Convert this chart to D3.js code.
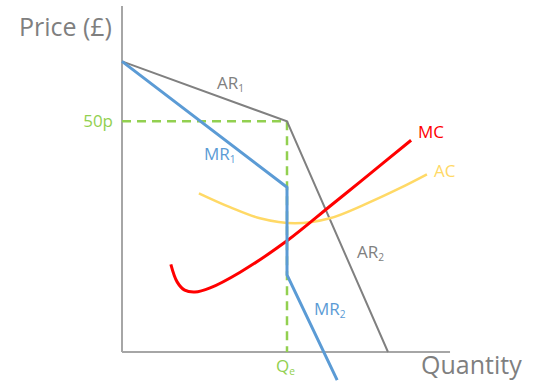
<!DOCTYPE html>
<html>
<head>
<meta charset="utf-8">
<script src="https://cdn.jsdelivr.net/npm/d3@7"></script>
<style>
  body { margin: 0; background: #fff; }
  text { font-family: "Open Sans", sans-serif; }
</style>
</head>
<body>
<div id="chart"></div>
<script>
// Kinked demand curve diagram (quantity units 0-10, price in pence 0-75)

const qe = 5;
const priceE = 50;

// Average revenue: flat-ish above the kink, steep below it
const arPoints = [[0, 63], [5, 50], [8.06, 0]];
// Marginal revenue: two segments with a vertical gap at Qe
const mrPoints = [[0, 63], [5, 35.7], [5, 16.7], [6.52, -6.1]];
// Marginal cost
const mcPoints = [[1.48, 19.0], [1.67, 15.2], [1.9, 13.4], [2.21, 13.0], [2.67, 13.9],
                  [3.58, 17.3], [5, 24.1], [6.3, 31.6], [7.27, 37.2], [8.76, 45.9]];
// Average cost
const acPoints = [[2.33, 34.4], [3.27, 31.4], [4.18, 29.0], [5.24, 27.9], [6.3, 29.0],
                  [7.36, 32.0], [8.42, 35.5], [9.24, 38.5]];

const width = 540, height = 390;

const svg = d3.select("#chart").append("svg")
  .attr("width", width)
  .attr("height", height);

const x = d3.scaleLinear().domain([0, 10]).range([122, 452]);
const y = d3.scaleLinear().domain([0, 75]).range([352, 6]);

const line = d3.line().x(d => x(d[0])).y(d => y(d[1]));
const smooth = d3.line().x(d => x(d[0])).y(d => y(d[1])).curve(d3.curveCatmullRom.alpha(0.5));

// Axes
svg.append("line")
  .attr("x1", x(0)).attr("x2", x(0))
  .attr("y1", y(75)).attr("y2", y(0))
  .attr("stroke", "#a6a6a6").attr("stroke-width", 2);
svg.append("line")
  .attr("x1", x(0)).attr("x2", x(9.94))
  .attr("y1", y(0)).attr("y2", y(0))
  .attr("stroke", "#a6a6a6").attr("stroke-width", 2);

// Dashed guides to the kink
svg.append("path")
  .attr("d", line([[0, priceE], [qe, priceE], [qe, 0]]))
  .attr("fill", "none")
  .attr("stroke", "#92d050")
  .attr("stroke-width", 2.5)
  .attr("stroke-dasharray", "9,6");

// Curves
svg.append("path")
  .attr("d", line(arPoints))
  .attr("fill", "none").attr("stroke", "#808080").attr("stroke-width", 2);

svg.append("path")
  .attr("d", smooth(acPoints))
  .attr("fill", "none").attr("stroke", "#ffd966").attr("stroke-width", 2.5);

svg.append("path")
  .attr("d", smooth(mcPoints))
  .attr("fill", "none").attr("stroke", "#ff0000").attr("stroke-width", 3);

svg.append("path")
  .attr("d", line(mrPoints))
  .attr("fill", "none").attr("stroke", "#5b9bd5").attr("stroke-width", 3)
  .attr("stroke-linejoin", "round");

// Axis titles
svg.append("text")
  .attr("x", 112).attr("y", 36)
  .attr("text-anchor", "end")
  .attr("fill", "#7f7f7f")
  .style("font-size", "25px")
  .text("Price (£)");

svg.append("text")
  .attr("x", 421).attr("y", 374)
  .attr("fill", "#7f7f7f")
  .style("font-size", "25px")
  .text("Quantity");

// Labels
function label(text, sub, px, py, color, size) {
  const t = svg.append("text")
    .attr("x", px).attr("y", py)
    .attr("fill", color)
    .style("font-size", size + "px");
  t.append("tspan").text(text);
  if (sub) {
    t.append("tspan")
      .attr("dy", 3)
      .style("font-size", (size * 0.6) + "px")
      .text(sub);
  }
  return t;
}

svg.append("text")
  .attr("x", 113).attr("y", y(priceE) + 6)
  .attr("text-anchor", "end")
  .attr("fill", "#92d050")
  .style("font-size", "17px")
  .text("50p");

label("Q", "e", 276, 372, "#92d050", 17);
label("AR", "1", 217, 89, "#808080", 17);
label("AR", "2", 357, 258, "#808080", 17);
label("MR", "1", 204, 160, "#5b9bd5", 17);
label("MR", "2", 314, 315, "#5b9bd5", 17);
label("MC", null, 418, 138, "#ff0000", 17);
label("AC", null, 434, 177, "#ffd966", 17);
</script>
</body>
</html>
